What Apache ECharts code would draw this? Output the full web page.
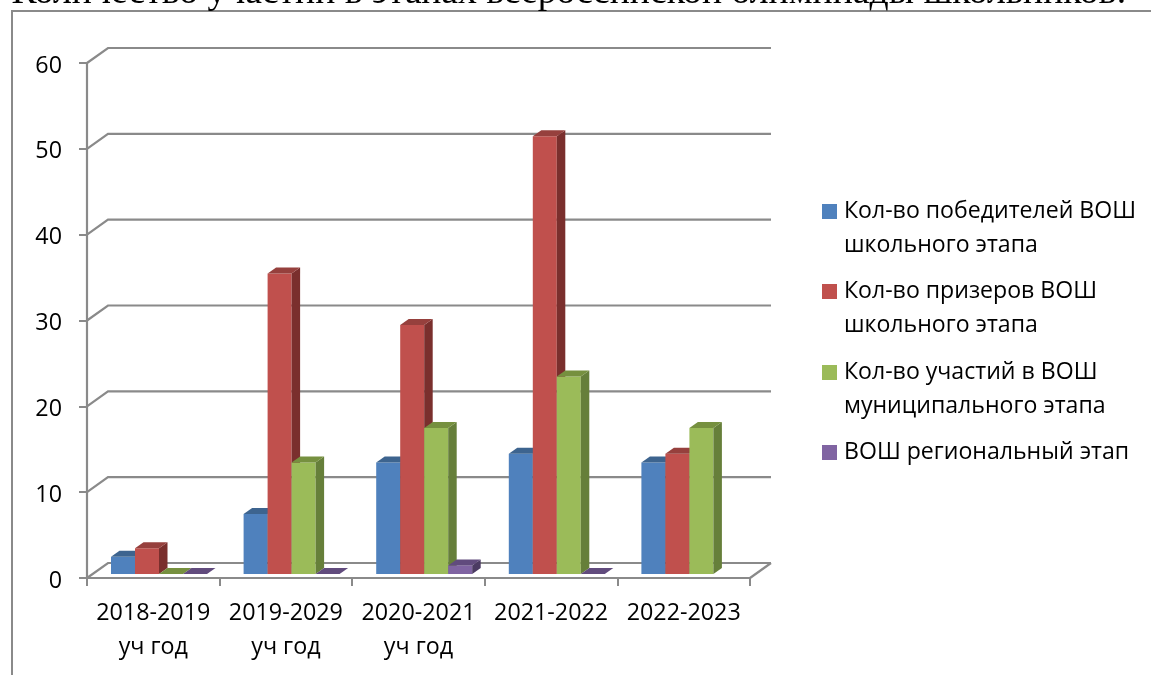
<!DOCTYPE html>
<html><head><meta charset="utf-8">
<style>html,body{margin:0;padding:0;background:#fff}#c{width:1151px;height:675px}</style>
<script src="https://cdn.jsdelivr.net/npm/echarts@6/dist/echarts.min.js"></script>
</head><body><div id="c"></div>
<script>
const titleText = 'Количество участий в этапах всероссийской олимпиады школьников:';
const categories = ['2018-2019\nуч год','2019-2029\nуч год','2020-2021\nуч год','2021-2022','2022-2023'];
const yTicks = [0,10,20,30,40,50,60];
const seriesNames = ['Кол-во победителей ВОШ\nшкольного этапа','Кол-во призеров ВОШ\nшкольного этапа','Кол-во участий в ВОШ\nмуниципального этапа','ВОШ региональный этап'];
const winners = [2,7,13,14,13];
const prizers = [3,35,29,51,14];
const participants = [0,13,17,23,17];
const regional = [0,0,1,0,null];
const seriesValues = [winners,prizers,participants,regional];
const colors = ['#4f81bd','#c0504d','#9bbb59','#8064a2'];
const topColors = ['#3d648f','#96403d','#76903f','#614b7d'];
const sideColors = ['#2f4d71','#7a2f2d','#667f3a','#4c3b63'];
const legendTops = [166,246,327,441];

const FONT = '"Open Sans"';
const GREY = '#8a8a8a';
const DX = 21, DY = 15;      // depth of the chart box
const BDX = 8.5, BDY = 6;    // depth of a bar
const LIFT = 4;              // bars stand slightly behind the front edge

const chart = echarts.init(document.getElementById('c'));

function wall(params, api){
  const cs = params.coordSys;
  const v = api.value(0);
  const y = api.coord([0, v])[1];
  const L = cs.x, R = cs.x + cs.width;
  const children = [{type:'polyline',shape:{points:[[L,y],[L+DX,y-DY],[R+DX,y-DY]]},style:{stroke:GREY,lineWidth:2.2,fill:null}}];
  if (v === 0) children.push({type:'line',shape:{x1:R,y1:y,x2:R+DX,y2:y-DY},style:{stroke:GREY,lineWidth:2.2}});
  return {type:'group',children};
}
function bar3d(si){
  return function(params, api){
    const v = api.value(1);
    if (v === null || v === undefined || isNaN(v)) return null;
    const c = api.coord([api.value(0), v]);
    const base = api.coord([api.value(0), 0])[1] - LIFT;
    const band = api.size([1,0])[0];
    const w = band * 0.181;
    const x = c[0] - band/2 + band*0.181 + si*w;
    const top = c[1] - LIFT;
    const children = [];
    if (v > 0) {
      children.push({type:'rect',shape:{x:x,y:top,width:w,height:base-top},style:{fill:colors[si]}});
      children.push({type:'polygon',shape:{points:[[x+w,top],[x+w+BDX,top-BDY],[x+w+BDX,base-BDY],[x+w,base]]},style:{fill:sideColors[si]}});
    }
    children.push({type:'polygon',shape:{points:[[x,top],[x+BDX,top-BDY],[x+w+BDX,top-BDY],[x+w,top]]},style:{fill:topColors[si]}});
    return {type:'group',children};
  };
}

const option = {
  animation:false,
  backgroundColor:'#fff',
  title:{text:titleText,left:11.5,top:-26,padding:0,z:20,textStyle:{fontFamily:'"Liberation Serif"',fontSize:37.65,fontWeight:'normal',color:'#000'}},
  graphic:[{type:'polyline',z:0,shape:{points:[[12,675],[12,11],[1151,11]]},style:{stroke:GREY,lineWidth:2,fill:null}}],
  grid:{left:87,right:401,top:63,bottom:97},
  xAxis:{type:'category',data:categories,
    axisLine:{lineStyle:{color:GREY,width:2.2}},
    axisTick:{show:true,length:8,alignWithLabel:false,lineStyle:{color:GREY,width:2}},
    axisLabel:{fontFamily:FONT,fontSize:23.3,color:'#000',lineHeight:34,margin:18,interval:0},
    splitLine:{show:false}},
  yAxis:{type:'value',min:0,max:60,interval:10,
    axisLine:{show:true,lineStyle:{color:GREY,width:2.2}},
    axisTick:{show:true,length:8,lineStyle:{color:GREY,width:2}},
    axisLabel:{fontFamily:FONT,fontSize:23.3,color:'#000',margin:25,verticalAlign:'top',lineHeight:6},
    splitLine:{show:false}},
  legend:seriesNames.map((n,i)=>({
    data:[n],left:822,top:legendTops[i],orient:'vertical',icon:'rect',itemWidth:15,itemHeight:15,itemGap:0,padding:0,
    selectedMode:false,
    formatter:(name)=>{
      const lines = name.split('\n');
      const body = lines.map(l=>'{t|'+l+'}').join('\n');
      return lines.length>1 ? '{t| }\n'+body : body;
    },
    textStyle:{rich:{t:{fontFamily:FONT,fontSize:23.1,color:'#000',lineHeight:34,padding:[0,0,0,2]}}}
  })),
  series:[
    {type:'custom',name:'wall',silent:true,z:1,coordinateSystem:'cartesian2d',data:yTicks.map(v=>[v]),encode:{y:0},renderItem:wall},
    ...seriesNames.map((n,si)=>({
      type:'custom',name:n,z:3+si,coordinateSystem:'cartesian2d',itemStyle:{color:colors[si]},
      data:seriesValues[si].map((v,i)=>[i,v]),encode:{x:0,y:1},renderItem:bar3d(si)
    }))
  ]
};
chart.setOption(option);
</script></body></html>
